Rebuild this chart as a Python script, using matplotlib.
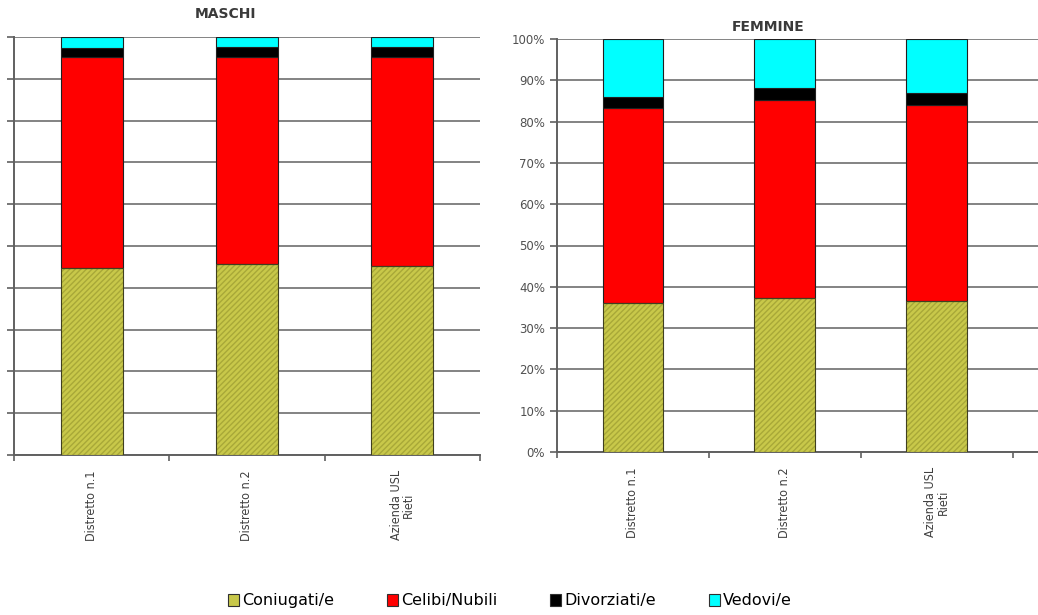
import matplotlib.pyplot as plt
import numpy as np

# dati (percentuali)
categorie = ["Distretto n.1", "Distretto n.2", "Azienda USL\nRieti"]
serie = ["Coniugati/e", "Celibi/Nubili", "Divorziati/e", "Vedovi/e"]
colori = ["#C8C84A", "#FF0000", "#000000", "#00FFFF"]

maschi_coniugati = [44.7, 45.7, 45.2]
maschi_celibi = [50.6, 49.6, 50.1]
maschi_divorziati = [2.1, 2.2, 2.2]
maschi_vedovi = [2.6, 2.5, 2.5]

femmine_coniugate = [36.1, 37.3, 36.5]
femmine_nubili = [47.2, 47.9, 47.5]
femmine_divorziate = [2.7, 2.9, 2.9]
femmine_vedove = [14.0, 11.9, 13.1]

W, H = 1038, 615
fig = plt.figure(figsize=(W / 100, H / 100), dpi=100)
plt.rcParams['font.family'] = ['DejaVu Sans']


def box(x0, x1, y0, y1):
    return [x0 / W, 1 - y1 / H, (x1 - x0) / W, (y1 - y0) / H]


ax1 = fig.add_axes(box(14, 480, 37, 455))
ax2 = fig.add_axes(box(557, 1040, 39, 452))


def disegna(ax, valori, xmax):
    x = np.arange(len(categorie))
    base = np.zeros(len(categorie))
    for i, (v, c) in enumerate(zip(valori, colori)):
        if i == 0:
            ax.bar(x, v, 0.4, bottom=base, color=c, hatch="//////",
                   edgecolor="#A8A838", linewidth=0, zorder=3)
            ax.bar(x, v, 0.4, bottom=base, fill=False,
                   edgecolor="#404020", linewidth=0.8, zorder=4)
        else:
            ax.bar(x, v, 0.4, bottom=base, color=c,
                   edgecolor="#202020", linewidth=0.8, zorder=3)
        base = base + np.array(v)
    ax.set_xlim(-0.5, xmax)
    ax.set_ylim(0, 100)
    ax.set_yticks(np.arange(0, 101, 10))
    ax.yaxis.grid(True, color="#7a7a7a", linewidth=1.3, zorder=0)
    ax.set_xticks(x)
    ax.set_xticklabels(categorie, rotation=90, fontsize=9, color="#404040",
                       va="top", linespacing=0.95, fontstretch="condensed")
    ax.tick_params(axis="x", length=0, pad=11)
    ax.set_xticks([-0.5, 0.5, 1.5, 2.5], minor=True)
    ax.tick_params(axis="x", which="minor", length=4, color="#606060",
                   direction="out", width=1.2)
    ax.tick_params(axis="y", length=5, color="#606060", width=1.2,
                   labelsize=8.5, labelcolor="#505050")
    for s in ["top", "right"]:
        ax.spines[s].set_visible(False)
    for s in ["left", "bottom"]:
        ax.spines[s].set_color("#606060")
        ax.spines[s].set_linewidth(1.4)


disegna(ax1, [maschi_coniugati, maschi_celibi, maschi_divorziati, maschi_vedovi], 2.5)
disegna(ax2, [femmine_coniugate, femmine_nubili, femmine_divorziate, femmine_vedove], 2.68)
ax1.set_yticklabels([])
ax2.set_yticklabels([f"{v}%" for v in range(0, 101, 10)])

fig.text(225 / W, 1 - 14 / H, "MASCHI", ha="center", va="center",
         fontsize=10, fontweight="semibold", color="#3a3a3a")
fig.text(768 / W, 1 - 27 / H, "FEMMINE", ha="center", va="center",
         fontsize=10, fontweight="semibold", color="#3a3a3a")

handles = [plt.Rectangle((0, 0), 1, 1, facecolor=c, edgecolor="#303030", linewidth=0.8)
           for c in colori]
fig.legend(handles, serie, loc="center", bbox_to_anchor=(510 / W, 1 - 601 / H),
           ncol=4, frameon=False, fontsize=11.5, handlelength=0.7, handleheight=0.7,
           handletextpad=0.2, columnspacing=3.3)

fig.savefig("out.png", dpi=100)
